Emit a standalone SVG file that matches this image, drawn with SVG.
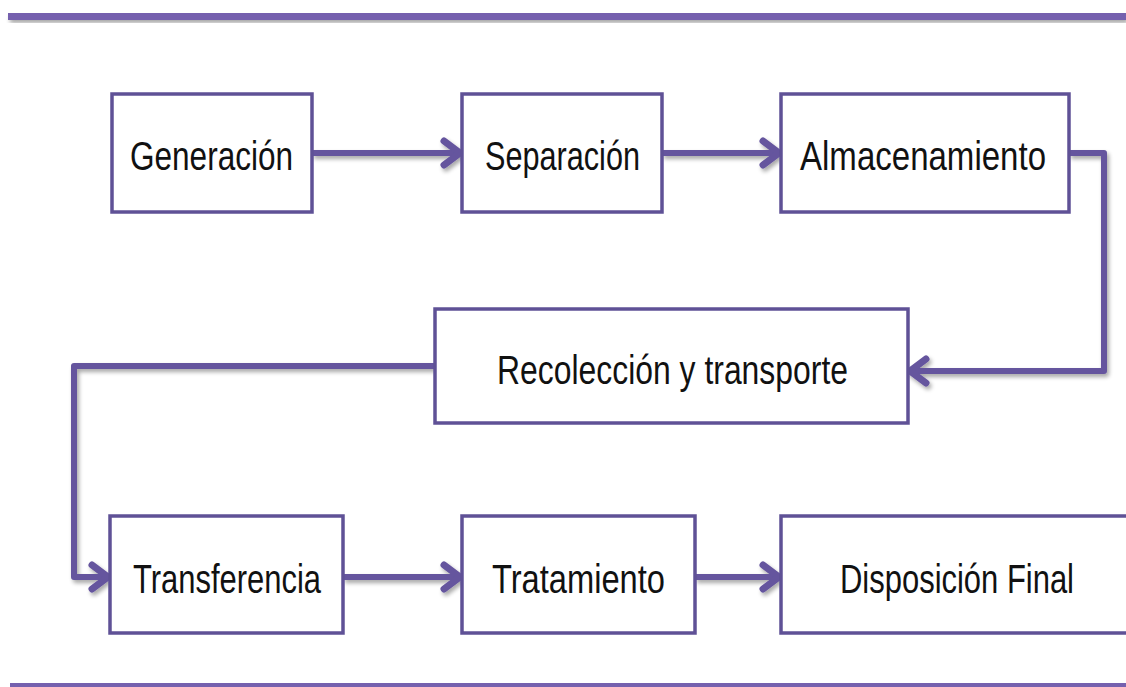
<svg xmlns="http://www.w3.org/2000/svg" width="1126" height="687" viewBox="0 0 1126 687">
<defs>
<filter id="sh" x="-5%" y="-20%" width="110%" height="160%">
<feGaussianBlur in="SourceAlpha" stdDeviation="2"/>
<feOffset dx="2" dy="3" result="b"/>
<feComponentTransfer><feFuncA type="linear" slope="0.35"/></feComponentTransfer>
<feMerge><feMergeNode/><feMergeNode in="SourceGraphic"/></feMerge>
</filter>
<marker id="arr" viewBox="0 0 24 32" refX="20" refY="16" markerWidth="24" markerHeight="32" markerUnits="userSpaceOnUse" orient="auto">
<path d="M4,4 L20,16 L4,28" fill="none" stroke="#65559e" stroke-width="7" stroke-linecap="round" stroke-linejoin="round"/>
</marker>
</defs>
<style>
.box{fill:#ffffff;stroke:#5f5196;stroke-width:3.5}
.lbl{font-family:"Liberation Sans","Open Sans",sans-serif;font-size:40px;fill:#111111}
.con{fill:none;stroke:#65559e;stroke-width:6;stroke-linejoin:round}
.bar{fill:#7560ae}
</style>
<rect width="1126" height="687" fill="#ffffff"/>
<rect class="bar" x="8" y="13" width="1118" height="7" filter="url(#sh)"/>
<rect class="bar" x="10" y="683" width="1116" height="6"/>
<g id="connectors" filter="url(#sh)">
<path class="con" d="M312,153 H460" marker-end="url(#arr)"/>
<path class="con" d="M662,153 H779" marker-end="url(#arr)"/>
<path class="con" d="M1069,153 H1104 V371 H910" marker-end="url(#arr)"/>
<path class="con" d="M435,366 H74 V577 H108" marker-end="url(#arr)"/>
<path class="con" d="M343,577 H460" marker-end="url(#arr)"/>
<path class="con" d="M695,577 H779" marker-end="url(#arr)"/>
</g>
<g id="n1"><rect class="box" x="112" y="94" width="200" height="118"/><text class="lbl" x="130" y="170" textLength="163" lengthAdjust="spacingAndGlyphs">Generación</text></g>
<g id="n2"><rect class="box" x="462" y="94" width="200" height="118"/><text class="lbl" x="485" y="170" textLength="155" lengthAdjust="spacingAndGlyphs">Separación</text></g>
<g id="n3"><rect class="box" x="781" y="94" width="288" height="118"/><text class="lbl" x="800" y="170" textLength="246" lengthAdjust="spacingAndGlyphs">Almacenamiento</text></g>
<g id="n4"><rect class="box" x="435" y="309" width="473" height="114"/><text class="lbl" x="497" y="384" textLength="351" lengthAdjust="spacingAndGlyphs">Recolección y transporte</text></g>
<g id="n5"><rect class="box" x="110" y="516" width="233" height="117"/><text class="lbl" x="133" y="593" textLength="188" lengthAdjust="spacingAndGlyphs">Transferencia</text></g>
<g id="n6"><rect class="box" x="462" y="516" width="233" height="117"/><text class="lbl" x="492" y="593" textLength="173" lengthAdjust="spacingAndGlyphs">Tratamiento</text></g>
<g id="n7"><rect x="781" y="516" width="345" height="117" fill="#ffffff"/><path d="M1126,516 H781 V633 H1126" fill="none" stroke="#5f5196" stroke-width="3.5"/><text class="lbl" x="840" y="593" textLength="234" lengthAdjust="spacingAndGlyphs">Disposición Final</text></g>
</svg>
